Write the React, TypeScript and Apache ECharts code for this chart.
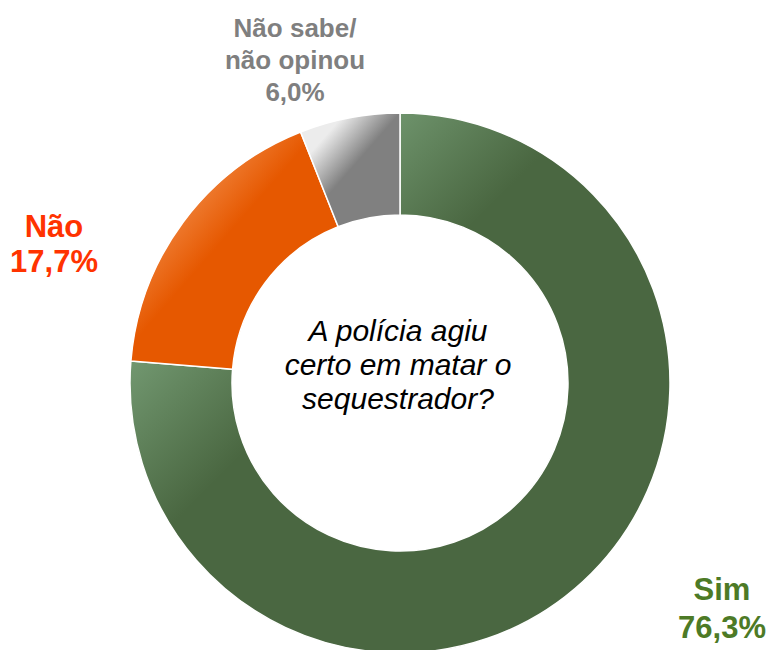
import React, { useEffect, useRef } from "react";
import * as echarts from "echarts";

const categories = ["Sim", "Não", "Não sabe/\nnão opinou"];
const values = [76.3, 17.7, 6.0];
const question = "A polícia agiu\ncerto em matar o\nsequestrador?";

const sliceLight = ["#7aa27a", "#f3914f", "#ececec"];
const sliceDark = ["#4a6741", "#e65800", "#808080"];
const labelColors = ["#4d7a26", "#ff3300", "#7f7f7f"];
const labelSizes = [31, 31, 26];
const labelLineHeights = [38, 35, 32];
const labelPos: [number, number][] = [
  [722, 608],
  [54, 244],
  [295, 60],
];
const darkStop = [0.42, 0.45, 0.5];

export default function App() {
  const ref = useRef<HTMLDivElement>(null);
  useEffect(() => {
    if (!ref.current) return;
    const chart = echarts.init(ref.current, null, { renderer: "svg" });
    const data = categories.map((name, i) => ({
      name,
      value: values[i],
      itemStyle: {
        color: {
          type: "linear",
          x: 0,
          y: 0,
          x2: 1,
          y2: 1,
          colorStops: [
            { offset: 0, color: sliceLight[i] },
            { offset: darkStop[i] * 0.45, color: sliceLight[i] },
            { offset: darkStop[i], color: sliceDark[i] },
            { offset: 1, color: sliceDark[i] },
          ],
        },
      },
      label: {
        color: labelColors[i],
        fontSize: labelSizes[i],
        lineHeight: labelLineHeights[i],
      },
    }));
    chart.setOption({
      animation: false,
      backgroundColor: "#ffffff",
      graphic: [
        {
          type: "text",
          x: 398,
          y: 364,
          style: {
            text: question,
            fontFamily: "Liberation Sans, Arial, sans-serif",
            fontStyle: "italic",
            fontSize: 30,
            lineHeight: 34,
            fill: "#000000",
            align: "center",
            verticalAlign: "middle",
          },
        },
      ],
      series: [
        {
          type: "pie",
          center: [400, 383],
          radius: [168, 270],
          startAngle: 90,
          clockwise: true,
          avoidLabelOverlap: false,
          itemStyle: { borderColor: "#ffffff", borderWidth: 1.5 },
          emphasis: { disabled: true },
          labelLine: { show: false },
          label: {
            show: true,
            position: "outside",
            fontFamily: "Liberation Sans, Arial, sans-serif",
            fontWeight: "bold",
            align: "center",
            formatter: (p: any) =>
              p.name + "\n" + p.value.toFixed(1).replace(".", ",") + "%",
          },
          labelLayout: (params: any) => {
            const pos = labelPos[params.dataIndex];
            return {
              x: pos[0],
              y: pos[1],
              align: "center",
              verticalAlign: "middle",
            };
          },
          data,
        },
      ],
    });
    return () => chart.dispose();
  }, []);
  return (
    <div
      ref={ref}
      style={{ position: "fixed", left: 0, top: 0, width: 772, height: 650 }}
    />
  );
}
